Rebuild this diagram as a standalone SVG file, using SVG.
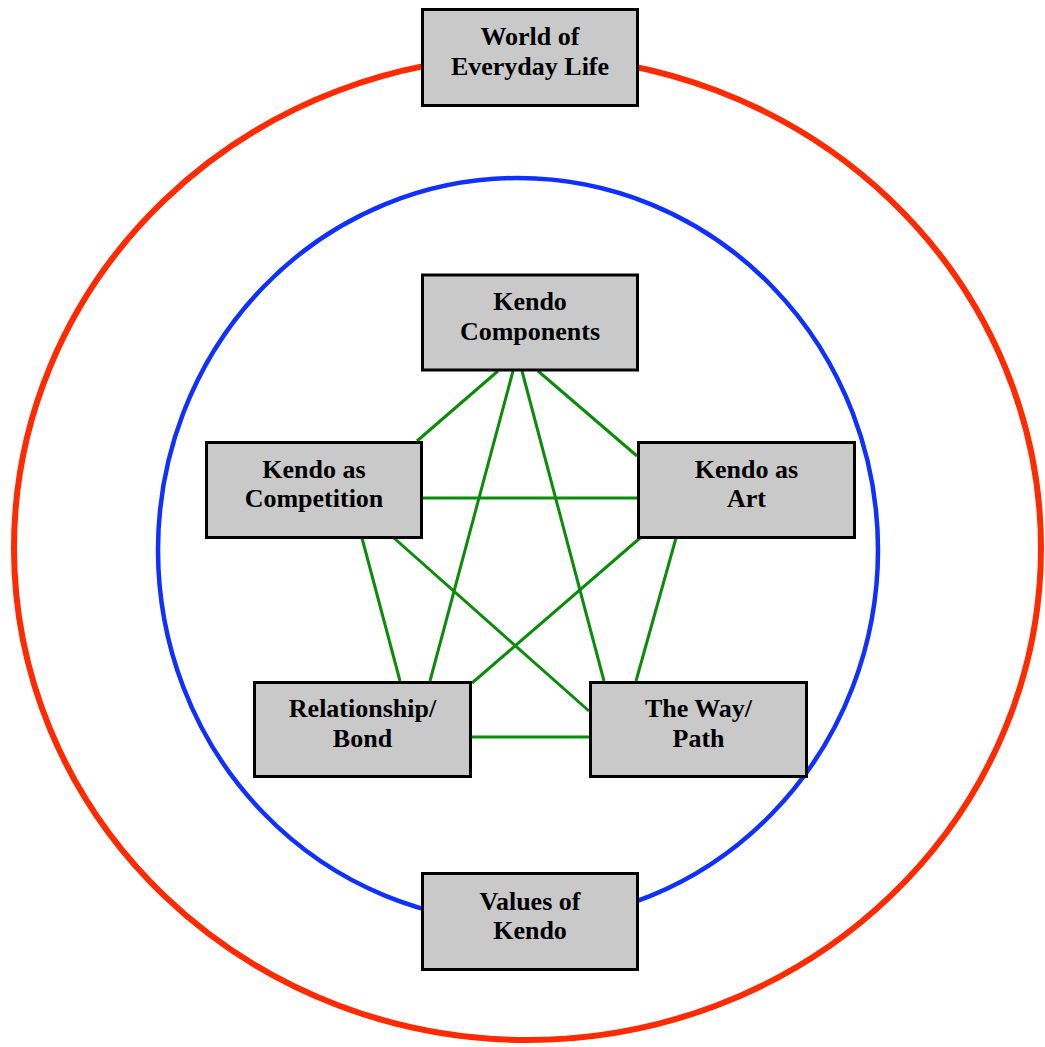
<svg xmlns="http://www.w3.org/2000/svg" width="1045" height="1047" viewBox="0 0 1045 1047">
<style>
.box{fill:#c9c9c9;stroke:#000;stroke-width:3}
.lbl{font-family:"Liberation Serif","Times New Roman",serif;font-weight:bold;font-size:26px;fill:#000;text-anchor:middle}
.con{stroke:#0a8c0a;stroke-width:3;fill:none}
</style>
<rect x="0" y="0" width="1045" height="1047" fill="#fff"/>
<g id="rings">
<ellipse cx="527.5" cy="548" rx="513.5" ry="492" fill="none" stroke="#ff2a00" stroke-width="6"/>
<ellipse cx="518" cy="550" rx="360" ry="372" fill="none" stroke="#1030ff" stroke-width="4.5"/>
</g>
<g id="connectors">
<line class="con" x1="498" y1="371" x2="417" y2="441"/>
<line class="con" x1="538" y1="371" x2="637" y2="456"/>
<line class="con" x1="513" y1="371" x2="430" y2="681"/>
<line class="con" x1="522" y1="371" x2="604" y2="681"/>
<line class="con" x1="423" y1="498" x2="637" y2="498"/>
<line class="con" x1="362" y1="538" x2="400" y2="681"/>
<line class="con" x1="394" y1="538" x2="589" y2="711"/>
<line class="con" x1="640" y1="538" x2="472" y2="683"/>
<line class="con" x1="676" y1="538" x2="636" y2="681"/>
<line class="con" x1="472" y1="737" x2="589" y2="737"/>
</g>
<g id="world">
<rect class="box" x="422.5" y="9.5" width="215" height="96"/>
<text class="lbl" x="530" y="45">World of</text>
<text class="lbl" x="530" y="75">Everyday Life</text>
</g>
<g id="components">
<rect class="box" x="422.5" y="275" width="215" height="95"/>
<text class="lbl" x="530" y="310">Kendo</text>
<text class="lbl" x="530" y="340">Components</text>
</g>
<g id="competition">
<rect class="box" x="206.5" y="442.5" width="215" height="95"/>
<text class="lbl" x="314" y="477.5">Kendo as</text>
<text class="lbl" x="314" y="507">Competition</text>
</g>
<g id="art">
<rect class="box" x="638.5" y="442.5" width="216" height="95"/>
<text class="lbl" x="746.5" y="477.5">Kendo as</text>
<text class="lbl" x="746.5" y="507">Art</text>
</g>
<g id="relationship">
<rect class="box" x="254.5" y="682.5" width="216" height="94"/>
<text class="lbl" x="362.5" y="717">Relationship/</text>
<text class="lbl" x="362.5" y="747">Bond</text>
</g>
<g id="way">
<rect class="box" x="590.5" y="682.5" width="216" height="94"/>
<text class="lbl" x="698.5" y="717">The Way/</text>
<text class="lbl" x="698.5" y="747">Path</text>
</g>
<g id="values">
<rect class="box" x="422.5" y="873.5" width="215" height="96"/>
<text class="lbl" x="530" y="909.5">Values of</text>
<text class="lbl" x="530" y="939">Kendo</text>
</g>
</svg>
